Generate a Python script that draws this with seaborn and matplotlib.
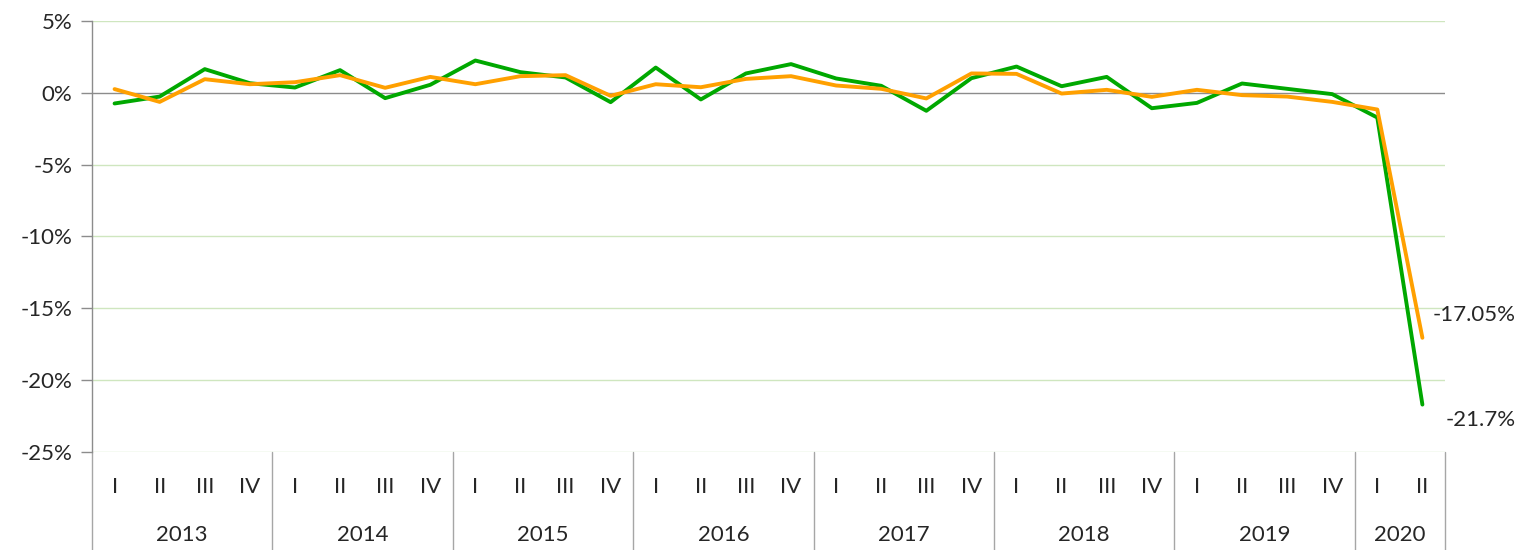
import pandas as pd
import seaborn as sns
import matplotlib.pyplot as plt
import matplotlib.transforms as mtransforms

# Data (quarterly % change, 2013 Q1 - 2020 Q2)
years = ["2013", "2014", "2015", "2016", "2017", "2018", "2019", "2020"]
quarters_per_year = [4, 4, 4, 4, 4, 4, 4, 2]
roman = ["I", "II", "III", "IV"]

green_vals = [-0.74, -0.26, 1.65, 0.67, 0.37, 1.58, -0.37, 0.56,
              2.25, 1.44, 1.07, -0.65, 1.76, -0.46, 1.35, 2.0,
              1.0, 0.49, -1.25, 1.02, 1.83, 0.46, 1.11, -1.07,
              -0.7, 0.65, 0.28, -0.09, -1.72, -21.7]
orange_vals = [0.26, -0.63, 0.95, 0.6, 0.74, 1.23, 0.35, 1.11,
               0.6, 1.16, 1.23, -0.21, 0.6, 0.39, 0.97, 1.16,
               0.51, 0.28, -0.39, 1.35, 1.32, -0.05, 0.21, -0.28,
               0.21, -0.16, -0.26, -0.63, -1.16, -17.05]

q_labels = []
for n in quarters_per_year:
    q_labels += roman[:n]

df = pd.DataFrame({
    "idx": list(range(len(green_vals))) * 2,
    "value": green_vals + orange_vals,
    "series": ["green"] * len(green_vals) + ["orange"] * len(orange_vals),
})

sns.set_style("white")
plt.rcParams['font.family'] = ['Lato', 'DejaVu Sans']
fs = 16

fig = plt.figure(figsize=(15.21, 5.5), dpi=100)
ax = fig.add_axes([0.0605, 0.1782, 0.8895, 0.7836])

sns.lineplot(data=df, x="idx", y="value", hue="series",
             palette={"green": "#00A800", "orange": "#FFA000"},
             linewidth=2.8, legend=False, ax=ax, zorder=3)

ax.set_xlim(-0.5, len(green_vals) - 0.5)
ax.set_ylim(-25, 5)
ax.set_yticks(range(-25, 6, 5))
ax.set_yticklabels([f"{t}%" for t in range(-25, 6, 5)], fontsize=fs)
ax.tick_params(axis="y", length=8, color="#8C8C8C", width=1, pad=6, direction="out", left=True)
ax.set_xticks([])
ax.set_xlabel("")
ax.set_ylabel("")

for t in range(-25, 6, 5):
    if t != 0:
        ax.axhline(t, color="#CFE6BF", linewidth=1, zorder=1)
ax.axhline(0, color="#8C8C8C", linewidth=1, zorder=2)

for s in ["top", "right", "bottom"]:
    ax.spines[s].set_visible(False)
ax.spines["left"].set_color("#8C8C8C")
ax.spines["left"].set_linewidth(1)

# two-level category axis
trans = mtransforms.blended_transform_factory(ax.transData, ax.transAxes)
ax_h = 0.7836 * 550
for i, lab in enumerate(q_labels):
    ax.text(i, -(487 - 452) / ax_h, lab, transform=trans, ha="center", va="center", fontsize=fs)

start = 0
bounds = [-0.5]
for y, n in zip(years, quarters_per_year):
    ax.text(start + (n - 1) / 2, -(535 - 452) / ax_h, y, transform=trans,
            ha="center", va="center", fontsize=fs)
    start += n
    bounds.append(start - 0.5)
for b in bounds:
    ax.plot([b, b], [0, -(550 - 452) / ax_h], transform=trans, color="#A6A6A6",
            linewidth=1, clip_on=False)

# end labels
last = len(green_vals) - 1
ax.annotate(f"{orange_vals[-1]:.2f}%", (last, orange_vals[-1]), xytext=(10, 23),
            textcoords="offset pixels", ha="left", va="center", fontsize=fs)
ax.annotate(f"{green_vals[-1]:.1f}%", (last, green_vals[-1]), xytext=(23, -15),
            textcoords="offset pixels", ha="left", va="center", fontsize=fs)

fig.savefig("out.png", dpi=100)
